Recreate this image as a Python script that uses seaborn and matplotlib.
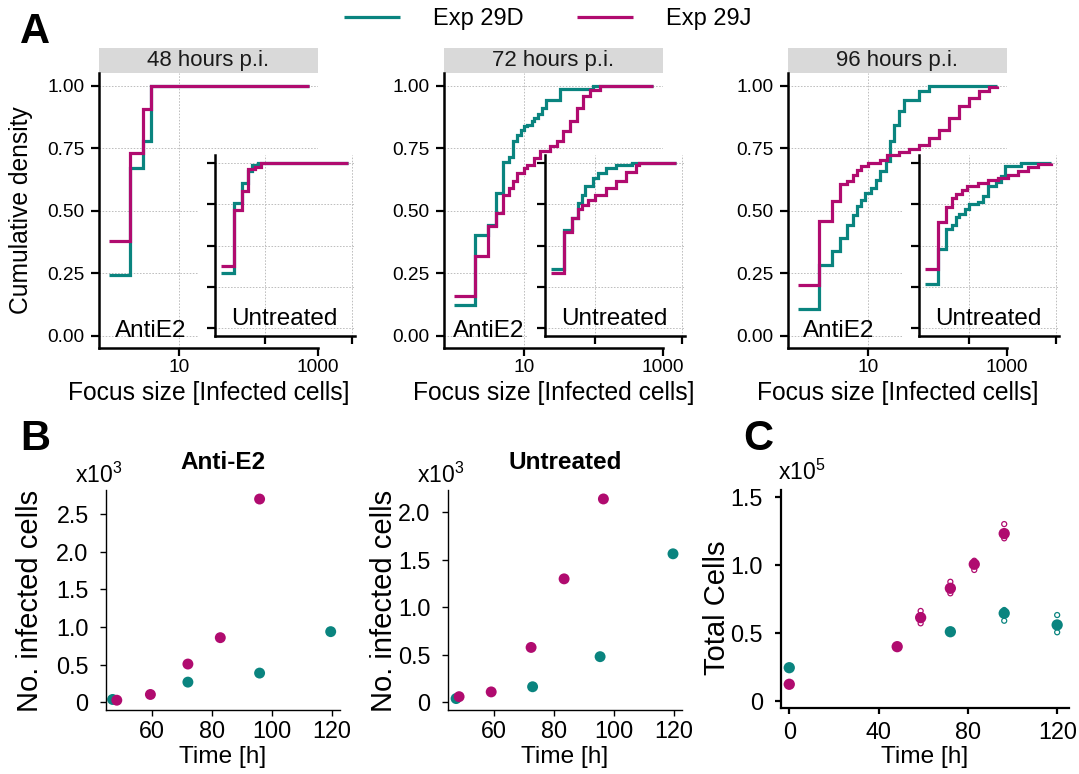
import matplotlib
matplotlib.use("Agg")
import matplotlib.pyplot as plt
from matplotlib.patches import Rectangle
from matplotlib.lines import Line2D
from matplotlib.ticker import NullLocator, FixedLocator, FixedFormatter, NullFormatter
import numpy as np
import pandas as pd
import seaborn as sns

# ---------------------------------------------------------------- data
experiments = ["Exp 29D", "Exp 29J"]
timepoint_titles = ["48 hours p.i.", "72 hours p.i.", "96 hours p.i."]

# Cumulative focus-size distributions (focus size -> cumulative fraction)
e48_anti_d_size = [1, 2, 3, 4, 740]
e48_anti_d_cdf = [0.244, 0.671, 0.777, 1.0, 1.0]
e48_anti_j_size = [1, 2, 3, 4, 740]
e48_anti_j_cdf = [0.38, 0.731, 0.907, 1.0, 1.0]
e48_untr_d_size = [1, 2, 3, 4, 5, 7, 800]
e48_untr_d_cdf = [0.331, 0.758, 0.88, 0.953, 0.988, 1.0, 1.0]
e48_untr_j_size = [1, 2, 3, 4, 6, 8, 800]
e48_untr_j_cdf = [0.378, 0.717, 0.829, 0.963, 0.98, 1.0, 1.0]

e72_anti_d_size = [1, 2, 3, 4, 5, 6, 7, 8, 9, 10, 11, 13, 14, 16, 18, 21, 33, 99, 725]
e72_anti_d_cdf = [0.124, 0.404, 0.444, 0.571, 0.695, 0.713, 0.777, 0.804, 0.824, 0.837,
                  0.844, 0.857, 0.871, 0.887, 0.911, 0.944, 0.988, 1.0, 1.0]
e72_anti_j_size = [1, 2, 3, 4, 5, 6, 7, 8, 10, 11, 14, 17, 24, 30, 37, 46, 57, 71, 89, 124, 725]
e72_anti_j_cdf = [0.16, 0.317, 0.44, 0.491, 0.564, 0.59, 0.62, 0.651, 0.67, 0.684, 0.711,
                  0.737, 0.757, 0.777, 0.817, 0.857, 0.91, 0.957, 0.984, 1.0, 1.0]
e72_untr_d_size = [1, 2, 3, 4, 5, 6, 9, 12, 18, 30, 72, 716]
e72_untr_d_cdf = [0.355, 0.595, 0.666, 0.757, 0.808, 0.859, 0.91, 0.94, 0.97, 0.99, 1.0, 1.0]
e72_untr_j_size = [1, 2, 3, 4, 5, 7, 10, 18, 30, 51, 86, 100, 716]
e72_untr_j_cdf = [0.334, 0.584, 0.666, 0.72, 0.747, 0.777, 0.808, 0.849, 0.895, 0.944, 0.99, 1.0, 1.0]

e96_anti_d_size = [1, 2, 3, 4, 5, 6, 7, 8, 9, 11, 13, 15, 18, 21, 24, 28, 33, 54, 76, 727]
e96_anti_d_cdf = [0.107, 0.284, 0.34, 0.391, 0.444, 0.484, 0.517, 0.544, 0.571, 0.591,
                  0.624, 0.657, 0.697, 0.777, 0.844, 0.897, 0.944, 0.977, 1.0, 1.0]
e96_anti_j_size = [1, 2, 3, 4, 5, 6, 7, 8, 10, 15, 19, 28, 39, 54, 76, 106, 147, 206, 285, 400, 555, 727]
e96_anti_j_cdf = [0.201, 0.457, 0.54, 0.607, 0.62, 0.644, 0.664, 0.677, 0.691, 0.704, 0.721,
                  0.735, 0.748, 0.764, 0.791, 0.824, 0.871, 0.917, 0.951, 0.977, 0.993, 1.0]
e96_untr_d_size = [1, 2, 3, 4, 5, 6, 8, 10, 16, 21, 27, 42, 55, 66, 158, 769]
e96_untr_d_cdf = [0.268, 0.478, 0.6, 0.626, 0.671, 0.691, 0.722, 0.752, 0.762, 0.803,
                  0.864, 0.884, 0.925, 0.986, 1.0, 1.0]
e96_untr_j_size = [1, 2, 3, 4, 5, 7, 9, 16, 27, 46, 78, 132, 224, 380, 769]
e96_untr_j_cdf = [0.356, 0.64, 0.732, 0.787, 0.813, 0.838, 0.864, 0.878, 0.899, 0.911,
                  0.931, 0.955, 0.98, 0.996, 1.0]

cdf_ticks = [0.0, 0.25, 0.5, 0.75, 1.0]
cdf_tick_labels = ["0.00", "0.25", "0.50", "0.75", "1.00"]
size_ticks = [10, 1000]
size_tick_labels = ["10", "1000"]

# Infected cells over time
b_anti_d_time = [47.0, 72.1, 96.0, 119.7]
b_anti_d_cells = [40, 270, 390, 940]
b_anti_j_time = [48.4, 59.6, 72.1, 82.9, 96.0]
b_anti_j_cells = [30, 106, 510, 860, 2700]
b_untr_d_time = [47.5, 73.0, 95.5, 119.8]
b_untr_d_cells = [40, 164, 480, 1560]
b_untr_j_time = [48.5, 59.2, 72.5, 83.5, 96.6]
b_untr_j_cells = [60, 110, 577, 1297, 2136]

# Total cells over time (means and single replicates)
c_d_time = [0, 72.1, 96.2, 119.9]
c_d_mean = [24500, 51000, 64600, 56000]
c_j_time = [0, 48.3, 58.8, 72.1, 82.8, 96.2]
c_j_mean = [12300, 40000, 61400, 83000, 100700, 123300]
c_d_rep_time = [96.2, 96.2, 119.9, 119.9]
c_d_rep = [67000, 59100, 63300, 50600]
c_j_rep_time = [58.8, 58.8, 72.1, 72.1, 82.8, 82.8, 96.2, 96.2]
c_j_rep = [66300, 57200, 87800, 79300, 103300, 96500, 130300, 119800]

# ---------------------------------------------------------------- style
sns.set_theme(style="ticks")
plt.rcParams["font.family"] = ["Liberation Sans", "DejaVu Sans"]
plt.rcParams["mathtext.fontset"] = "custom"
plt.rcParams["mathtext.rm"] = "Liberation Sans"
plt.rcParams["text.color"] = "black"
plt.rcParams["axes.labelcolor"] = "black"
plt.rcParams["xtick.color"] = "black"
plt.rcParams["ytick.color"] = "black"

TEAL = "#0A847F"
MAGENTA = "#B00B6F"
palette = {"Exp 29D": TEAL, "Exp 29J": MAGENTA}
LW = 2.3

W, H = 1079, 774
fig = plt.figure(figsize=(W / 100, H / 100), dpi=100)
fig.patch.set_facecolor("white")


def box(x0, y0, x1, y1):
    return [x0 / W, 1 - y1 / H, (x1 - x0) / W, (y1 - y0) / H]


GRID = dict(color="#BDBDBD", linestyle=(0, (1.6, 1.6)), linewidth=0.7)


def ecdf_frame(d_size, d_cdf, j_size, j_cdf):
    return pd.concat([
        pd.DataFrame({"size": d_size, "cdf": d_cdf, "exp": experiments[0]}),
        pd.DataFrame({"size": j_size, "cdf": j_cdf, "exp": experiments[1]}),
    ], ignore_index=True)


def draw_ecdf(ax, df):
    sns.lineplot(data=df, x="size", y="cdf", hue="exp", hue_order=experiments,
                 palette=palette, estimator=None, sort=False, drawstyle="steps-post",
                 linewidth=LW, solid_capstyle="butt", solid_joinstyle="miter",
                 legend=False, ax=ax)


def style_ecdf_axes(ax, xlim, labelled):
    ax.set_xscale("log")
    ax.set_xlim(*xlim)
    ax.set_ylim(-0.05, 1.05)
    ax.xaxis.set_major_locator(FixedLocator(size_ticks))
    ax.xaxis.set_minor_locator(NullLocator())
    ax.yaxis.set_major_locator(FixedLocator(cdf_ticks))
    if labelled:
        ax.xaxis.set_major_formatter(FixedFormatter(size_tick_labels))
        ax.yaxis.set_major_formatter(FixedFormatter(cdf_tick_labels))
    else:
        ax.xaxis.set_major_formatter(NullFormatter())
        ax.yaxis.set_major_formatter(NullFormatter())
    ax.set_xlabel("")
    ax.set_ylabel("")
    ax.grid(True, which="major", **GRID)
    ax.set_axisbelow(True)
    ax.set_facecolor("white")
    for s in ("top", "right"):
        ax.spines[s].set_visible(False)
    for s in ("left", "bottom"):
        ax.spines[s].set_color("black")
        ax.spines[s].set_linewidth(1.8)
    ax.tick_params(axis="both", which="major", direction="out", length=5.5, width=1.6,
                   color="black", labelsize=13.8, labelcolor="black")
    ax.tick_params(axis="x", pad=2.5)
    ax.tick_params(axis="y", pad=5)


ecdf_panels = [
    (ecdf_frame(e48_anti_d_size, e48_anti_d_cdf, e48_anti_j_size, e48_anti_j_cdf),
     ecdf_frame(e48_untr_d_size, e48_untr_d_cdf, e48_untr_j_size, e48_untr_j_cdf)),
    (ecdf_frame(e72_anti_d_size, e72_anti_d_cdf, e72_anti_j_size, e72_anti_j_cdf),
     ecdf_frame(e72_untr_d_size, e72_untr_d_cdf, e72_untr_j_size, e72_untr_j_cdf)),
    (ecdf_frame(e96_anti_d_size, e96_anti_d_cdf, e96_anti_j_size, e96_anti_j_cdf),
     ecdf_frame(e96_untr_d_size, e96_untr_d_cdf, e96_untr_j_size, e96_untr_j_cdf)),
]

main_left = [99, 444, 788]
inset_left = [215, 545, 919]
antie2_x = [0.237, 0.205, 0.233]
MAIN_W, MAIN_TOP, MAIN_BOTTOM = 219, 73, 348
MAIN_H = MAIN_BOTTOM - MAIN_TOP
INSET_W, INSET_TOP, INSET_BOTTOM = 140, 155, 336

for i, (anti_df, untr_df) in enumerate(ecdf_panels):
    x0 = main_left[i]
    ix0 = inset_left[i]
    ax = fig.add_axes(box(x0, MAIN_TOP, x0 + MAIN_W, MAIN_BOTTOM))
    ax.set_zorder(1)

    # white card behind the inset: hides the main grid, curves stay on top
    card_x0, card_x1, card_y0, card_y1 = ix0 - 17, ix0 + INSET_W + 5, 149, 344
    ax.add_patch(Rectangle(((card_x0 - x0) / MAIN_W, (MAIN_BOTTOM - card_y1) / MAIN_H),
                           (card_x1 - card_x0) / MAIN_W, (card_y1 - card_y0) / MAIN_H,
                           transform=ax.transAxes, facecolor="white", edgecolor="none",
                           zorder=1.5, clip_on=False))

    draw_ecdf(ax, anti_df)
    style_ecdf_axes(ax, (10 ** -0.15, 10 ** 3.0), True)

    # facet strip
    strip_h = 25 / MAIN_H
    ax.add_patch(Rectangle((0, 1), 1.0, strip_h, transform=ax.transAxes,
                           facecolor="#D9D9D9", edgecolor="none", clip_on=False))
    ax.text(0.5, 1 + strip_h / 2, timepoint_titles[i], transform=ax.transAxes,
            ha="center", va="center", fontsize=16, color="#1A1A1A")
    ax.text(antie2_x[i], 0.04, "AntiE2", transform=ax.transAxes,
            ha="center", va="baseline", fontsize=17.5)

    ax.set_xlabel("Focus size [Infected cells]", fontsize=17.7)
    ax.xaxis.set_label_coords(0.5, -0.12)
    if i == 0:
        ax.set_ylabel("Cumulative density", fontsize=17.7)
        ax.yaxis.set_label_coords(-0.30, 0.5)

    # inset for untreated wells
    iax = fig.add_axes(box(ix0, INSET_TOP, ix0 + INSET_W, INSET_BOTTOM))
    iax.set_zorder(3)
    draw_ecdf(iax, untr_df)
    style_ecdf_axes(iax, (10 ** -0.145, 10 ** 3.06), False)
    iax.text(0.495, 0.06, "Untreated", transform=iax.transAxes,
             ha="center", va="baseline", fontsize=17.5)


# ---------------------------------------------------------------- panels B and C
def points_frame(d_t, d_v, j_t, j_v, scale):
    return pd.concat([
        pd.DataFrame({"time": d_t, "value": np.asarray(d_v) / scale, "exp": experiments[0]}),
        pd.DataFrame({"time": j_t, "value": np.asarray(j_v) / scale, "exp": experiments[1]}),
    ], ignore_index=True)


def style_points_axes(ax, xlim, ylim, xticks, yticks, ylabels, spine_lw, tick_len, ypad, xpad):
    ax.set_xlim(*xlim)
    ax.set_ylim(*ylim)
    ax.xaxis.set_major_locator(FixedLocator(xticks))
    ax.xaxis.set_major_formatter(FixedFormatter([str(t) for t in xticks]))
    ax.yaxis.set_major_locator(FixedLocator(yticks))
    ax.yaxis.set_major_formatter(FixedFormatter(ylabels))
    for s in ("top", "right"):
        ax.spines[s].set_visible(False)
    for s in ("left", "bottom"):
        ax.spines[s].set_color("black")
        ax.spines[s].set_linewidth(spine_lw)
    ax.tick_params(axis="both", direction="out", length=tick_len, width=spine_lw,
                   color="black", labelsize=16.8, labelcolor="black")
    ax.tick_params(axis="y", pad=ypad)
    ax.tick_params(axis="x", pad=xpad)
    ax.grid(False)


b_panels = [
    ("Anti-E2", 106, points_frame(b_anti_d_time, b_anti_d_cells, b_anti_j_time, b_anti_j_cells, 1e3),
     (-0.1, 2.82), [0, 0.5, 1.0, 1.5, 2.0, 2.5], ["0", "0.5", "1.0", "1.5", "2.0", "2.5"], -0.265),
    ("Untreated", 448, points_frame(b_untr_d_time, b_untr_d_cells, b_untr_j_time, b_untr_j_cells, 1e3),
     (-0.08, 2.23), [0, 0.5, 1.0, 1.5, 2.0], ["0", "0.5", "1.0", "1.5", "2.0"], -0.214),
]

for title, bx0, df, ylim, yticks, ylabels, ylab_x in b_panels:
    ax = fig.add_axes(box(bx0, 490, bx0 + 234, 710))
    sns.scatterplot(data=df, x="time", y="value", hue="exp", hue_order=experiments,
                    palette=palette, s=62, linewidth=0, legend=False, ax=ax)
    style_points_axes(ax, (44.8, 122.8), ylim, [60, 80, 100, 120], yticks, ylabels,
                      spine_lw=1.0, tick_len=4.5, ypad=8, xpad=2.5)
    ax.set_xlabel("Time [h]", fontsize=17.6)
    ax.xaxis.set_label_coords(0.5, -0.164)
    ax.set_ylabel("No. infected cells", fontsize=21)
    ax.yaxis.set_label_coords(ylab_x, 0.495)
    ax.text(0.5, 1.127, title, transform=ax.transAxes, ha="center", va="center",
            fontsize=17.5, fontweight="bold")
    ax.text(-0.1325, 1.032, r"x10$^{\mathrm{3}}$", transform=ax.transAxes,
            ha="left", va="baseline", fontsize=16.5)

axc = fig.add_axes(box(781, 490, 1069, 708.3))
c_means = points_frame(c_d_time, c_d_mean, c_j_time, c_j_mean, 1e5)
c_reps = points_frame(c_d_rep_time, c_d_rep, c_j_rep_time, c_j_rep, 1e5)
sns.scatterplot(data=c_means, x="time", y="value", hue="exp", hue_order=experiments,
                palette=palette, s=66, linewidth=0, legend=False, ax=axc)
for exp in experiments:
    sub = c_reps[c_reps["exp"] == exp]
    axc.scatter(sub["time"], sub["value"], s=13, facecolors="none",
                edgecolors=palette[exp], linewidths=0.9, zorder=3)
style_points_axes(axc, (-3.7, 125.2), (-0.054, 1.554), [0, 40, 80, 120],
                  [0, 0.5, 1.0, 1.5], ["0", "0.5", "1.0", "1.5"],
                  spine_lw=1.6, tick_len=4, ypad=9, xpad=5)
axc.set_xlabel("Time [h]", fontsize=17.6)
axc.xaxis.set_label_coords(0.5, -0.173)
axc.set_ylabel("Total Cells", fontsize=21)
axc.yaxis.set_label_coords(-0.174, 0.462)
axc.text(-0.0104, 1.046, r"x10$^{\mathrm{5}}$", transform=axc.transAxes,
         ha="left", va="baseline", fontsize=16.5)

# ---------------------------------------------------------------- legend & panel letters
handles = [Line2D([], [], color=palette[e], linewidth=LW, solid_capstyle="butt") for e in experiments]
fig.legend(handles, experiments, loc="center", bbox_to_anchor=(547.5 / W, 1 - 19 / H),
           ncol=2, frameon=False, fontsize=17, handlelength=2.37, handletextpad=1.4,
           columnspacing=2.25, borderaxespad=0, borderpad=0)

for letter, lx, ly in [("A", 20, 43), ("B", 20, 450), ("C", 743, 450)]:
    fig.text(lx / W, 1 - ly / H, letter, fontsize=30, fontweight="bold", va="baseline", ha="left")

fig.savefig("out.png", dpi=100, facecolor="white")
